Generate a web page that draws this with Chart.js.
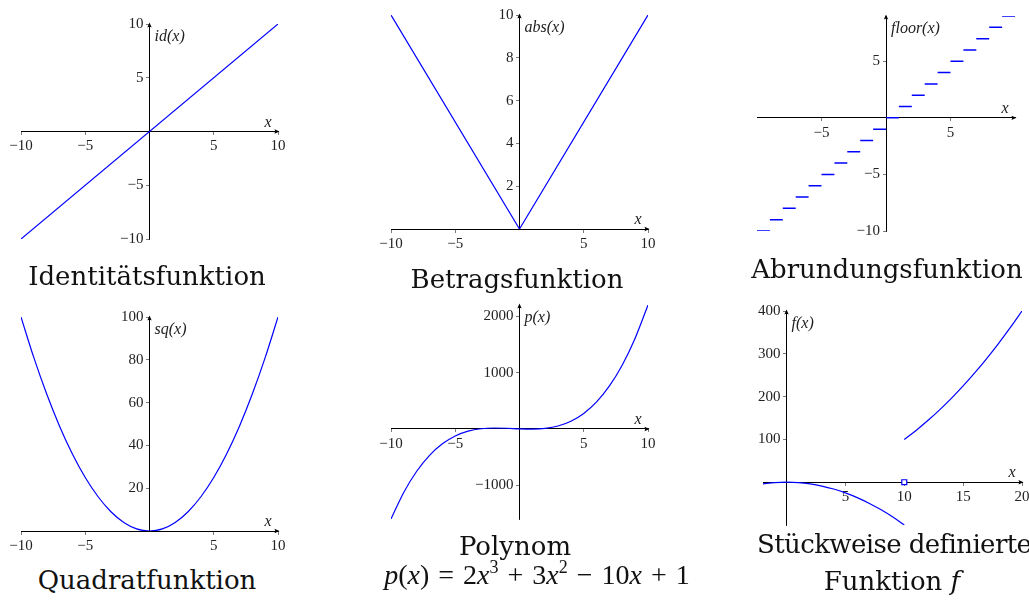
<!DOCTYPE html>
<html>
<head>
<meta charset="utf-8">
<script src="https://cdn.jsdelivr.net/npm/chart.js@4.4.1/dist/chart.umd.min.js"></script>
<style>
    html, body { margin: 0; padding: 0; background: #fff; overflow: hidden; }
    body { width: 1029px; height: 601px; position: relative; }
    canvas { position: absolute; }
    .title {
        position: absolute; width: 400px; text-align: center; white-space: nowrap;
        font-family: 'DejaVu Serif', serif; font-size: 26px; line-height: 26px; color: #111;
    }
    .formula { font-family: 'Liberation Serif', serif; font-size: 28px; line-height: 28px; word-spacing: 2px; }
    .formula sup { font-size: 18px; line-height: 0; position: relative; top: -1px; }
</style>
</head>
<body>
<canvas id="idChart" width="305" height="263" style="left:-3px;top:0px"></canvas>
<canvas id="absChart" width="305" height="262" style="left:367px;top:-9px"></canvas>
<canvas id="floorChart" width="306" height="263" style="left:733px;top:-8px"></canvas>
<canvas id="sqChart" width="305" height="262" style="left:-3px;top:293px"></canvas>
<canvas id="polyChart" width="305" height="262" style="left:367px;top:281px"></canvas>
<canvas id="pieceChart" width="307" height="262" style="left:739px;top:287px"></canvas>

<div class="title" style="left:-53px;top:263px">Identitätsfunktion</div>
<div class="title" style="left:317px;top:266px">Betragsfunktion</div>
<div class="title" style="left:687px;top:256px">Abrundungsfunktion</div>
<div class="title" style="left:-53px;top:567px">Quadratfunktion</div>
<div class="title" style="left:315px;top:533px">Polynom</div>
<div class="title formula" style="left:337px;top:561px"><i>p</i>(<i>x</i>) = 2<i>x</i><sup>3</sup> + 3<i>x</i><sup>2</sup> − 10<i>x</i> + 1</div>
<div class="title" style="left:757px;top:531px;width:auto;text-align:left;letter-spacing:-0.6px">Stückweise definierte</div>
<div class="title" style="left:692px;top:568px">Funktion <i>f</i></div>

<script>
// Values
const idX = [-10, 10];
const idY = [-10, 10];

const absX = [-10, 0, 10];
const absY = [10, 0, 10];

const floorStart = [-10, -9, -8, -7, -6, -5, -4, -3, -2, -1, 0, 1, 2, 3, 4, 5, 6, 7, 8, 9];
const floorEnd   = [-9, -8, -7, -6, -5, -4, -3, -2, -1, 0, 1, 2, 3, 4, 5, 6, 7, 8, 9, 10];
const floorY     = [-10, -9, -8, -7, -6, -5, -4, -3, -2, -1, 0, 1, 2, 3, 4, 5, 6, 7, 8, 9];

const sqX = [-10, -9, -8, -7, -6, -5, -4, -3, -2, -1, 0, 1, 2, 3, 4, 5, 6, 7, 8, 9, 10];
const sqY = [100, 81, 64, 49, 36, 25, 16, 9, 4, 1, 0, 1, 4, 9, 16, 25, 36, 49, 64, 81, 100];

const polyX = [-10, -9, -8, -7, -6, -5, -4, -3, -2, -1, 0, 1, 2, 3, 4, 5, 6, 7, 8, 9, 10];
const polyY = [-1599, -1124, -751, -468, -263, -124, -39, 4, 17, 12, 1, -4, 9, 52, 137, 276, 481, 764, 1137, 1612, 2201];

const lowX = [-2, -1, 0, 1, 2, 3, 4, 5, 6, 7, 8, 9, 10];
const lowY = [-4, -1, 0, -1, -4, -9, -16, -25, -36, -49, -64, -81, -100];
const highX = [10, 11, 12, 13, 14, 15, 16, 17, 18, 19, 20];
const highY = [100, 121, 144, 169, 196, 225, 256, 289, 324, 361, 400];
const markX = [10];
const markY = [0];

// Tick labels
const ticksX10 = [-10, -5, 5, 10];
const ticksId = [-10, -5, 5, 10];
const ticksAbs = [2, 4, 6, 8, 10];
const ticksFloorX = [-5, 5];
const ticksFloorY = [-10, -5, 5];
const ticksSq = [20, 40, 60, 80, 100];
const ticksPoly = [-1000, 1000, 2000];
const ticksPieceX = [5, 10, 15, 20];
const ticksPieceY = [100, 200, 300, 400];

const BLUE = '#0000ff';

function fmt(v) {
    return v < 0 ? '\u2212' + Math.abs(v) : String(v);
}

function pairs(xs, ys) {
    return xs.map((x, i) => ({x: x, y: ys[i]}));
}

function drawArrow(ctx, x, y, angle) {
    ctx.save();
    ctx.translate(x, y);
    ctx.rotate(angle);
    ctx.beginPath();
    ctx.moveTo(1.5, 0);
    ctx.lineTo(-3.5, -2.2);
    ctx.quadraticCurveTo(-2, 0, -3.5, 2.2);
    ctx.closePath();
    ctx.fill();
    ctx.restore();
}

// arrow heads and axis names
const axisDeco = {
    id: 'axisDeco',
    afterDraw(chart, args, opts) {
        const {ctx, chartArea} = chart;
        const ox = chart.scales.x.getPixelForValue(0);
        const oy = chart.scales.y.getPixelForValue(0);
        ctx.save();
        ctx.fillStyle = '#000';
        drawArrow(ctx, chartArea.right, oy, 0);
        drawArrow(ctx, ox, chartArea.top, -Math.PI / 2);
        ctx.fillStyle = '#222';
        ctx.font = 'italic 16px "Liberation Serif"';
        ctx.textBaseline = 'middle';
        ctx.textAlign = 'center';
        ctx.fillText(opts.xLabel, chartArea.right - 10, oy - 9);
        ctx.textAlign = 'left';
        ctx.fillText(opts.yLabel, ox + 5, chartArea.top + 13);
        ctx.restore();
    }
};

function axisOptions(min, max, tickValues, pos, isY) {
    return {
        type: 'linear',
        min: min,
        max: max,
        position: pos,
        afterBuildTicks: scale => { scale.ticks = tickValues.map(v => ({value: v})); },
        grid: {drawOnChartArea: false, drawTicks: true, tickLength: 3, color: '#444', lineWidth: 0.7},
        border: {display: true, color: '#000', width: 1},
        ticks: {
            padding: 3,
            color: '#222',
            autoSkip: false,
            maxRotation: 0,
            font: {family: 'Liberation Serif', size: 15},
            callback: v => isY ? fmt(v) + '\u2009\u2009' : fmt(v)
        }
    };
}

function makePlot(id, datasets, xr, yr, xLabel, yLabel) {
    const ctx = document.getElementById(id)?.getContext('2d');
    if (!ctx) return;
    new Chart(ctx, {
        type: 'scatter',
        data: {datasets: datasets},
        options: {
            responsive: false,
            animation: false,
            layout: {padding: 24},
            plugins: {
                legend: {display: false},
                tooltip: {enabled: false},
                axisDeco: {xLabel: xLabel, yLabel: yLabel}
            },
            scales: {
                x: axisOptions(xr[0], xr[1], xr[2], {y: 0}, false),
                y: axisOptions(yr[0], yr[1], yr[2], {x: 0}, true)
            }
        },
        plugins: [axisDeco]
    });
}

function curve(xs, ys, smooth) {
    return {
        data: pairs(xs, ys),
        showLine: true,
        borderColor: BLUE,
        borderWidth: 1.2,
        pointRadius: 0,
        cubicInterpolationMode: smooth ? 'monotone' : 'default',
        tension: 0,
        spanGaps: false
    };
}

function floorData() {
    const pts = [];
    floorY.forEach((v, i) => {
        pts.push({x: floorStart[i], y: v});
        pts.push({x: floorEnd[i], y: v});
        pts.push({x: floorEnd[i], y: null});
    });
    return pts;
}

makePlot('idChart', [curve(idX, idY, false)], [-10, 10, ticksX10], [-10, 10, ticksId], 'x', 'id(x)');
makePlot('absChart', [curve(absX, absY, false)], [-10, 10, ticksX10], [0, 10, ticksAbs], 'x', 'abs(x)');
makePlot('floorChart', [{
    data: floorData(), showLine: true, borderColor: BLUE, borderWidth: 1.5, pointRadius: 0, spanGaps: false
}], [-10, 10, ticksFloorX], [-10, 9, ticksFloorY], 'x', 'floor(x)');
makePlot('sqChart', [curve(sqX, sqY, true)], [-10, 10, ticksX10], [0, 100, ticksSq], 'x', 'sq(x)');
makePlot('polyChart', [curve(polyX, polyY, true)], [-10, 10, ticksX10], [-1599, 2201, ticksPoly], 'x', 'p(x)');
makePlot('pieceChart', [
    curve(lowX, lowY, true),
    curve(highX, highY, true),
    {
        data: pairs(markX, markY), showLine: false, pointStyle: 'rect', pointRadius: 3.5,
        borderColor: BLUE, borderWidth: 1.2, backgroundColor: '#fff'
    }
], [-2, 20, ticksPieceX], [-100, 400, ticksPieceY], 'x', 'f(x)');
</script>
</body>
</html>
